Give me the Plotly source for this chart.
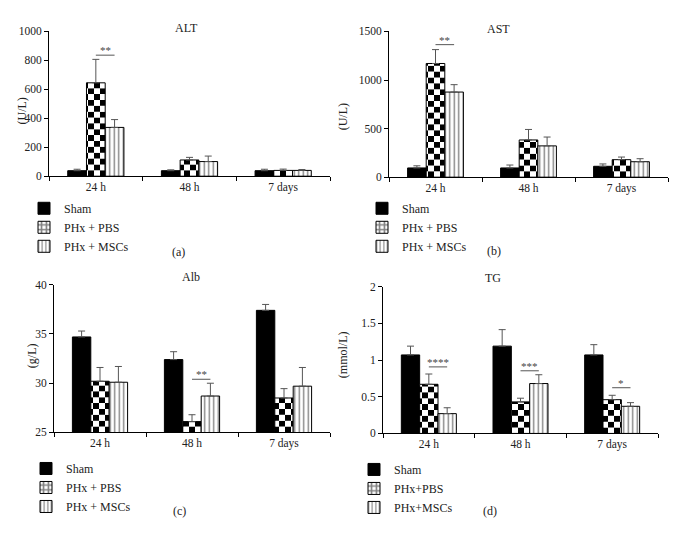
import math
import plotly.graph_objects as go

W, H = 673, 548
FONT = "Liberation Serif"
TXT = "#222222"
ERR = "#555555"

# ---------------- data ----------------
categories = ["24 h", "48 h", "7 days"]
group_names = ["Sham", "PHx + PBS", "PHx + MSCs"]
group_names_tg = ["Sham", "PHx+PBS", "PHx+MSCs"]

alt_sham = [38, 38, 38]
alt_sham_err = [10, 6, 10]
alt_pbs = [645, 112, 40]
alt_pbs_err = [162, 18, 9]
alt_msc = [337, 101, 40]
alt_msc_err = [54, 38, 6]

ast_sham = [95, 95, 112]
ast_sham_err = [22, 30, 24]
ast_pbs = [1170, 383, 180]
ast_pbs_err = [143, 108, 27]
ast_msc = [876, 322, 159]
ast_msc_err = [76, 91, 31]

alb_sham = [34.7, 32.4, 37.4]
alb_sham_err = [0.6, 0.8, 0.6]
alb_pbs = [30.2, 26.1, 28.5]
alb_pbs_err = [1.4, 0.7, 0.95]
alb_msc = [30.1, 28.7, 29.7]
alb_msc_err = [1.6, 1.3, 1.9]

tg_sham = [1.07, 1.19, 1.07]
tg_sham_err = [0.12, 0.225, 0.14]
tg_pbs = [0.67, 0.43, 0.46]
tg_pbs_err = [0.14, 0.05, 0.06]
tg_msc = [0.27, 0.68, 0.37]
tg_msc_err = [0.08, 0.12, 0.05]

alt_ticks = [0, 200, 400, 600, 800, 1000]
ast_ticks = [0, 500, 1000, 1500]
alb_ticks = [25, 30, 35, 40]
tg_ticks = [0, 0.5, 1, 1.5, 2]
tg_ticktext = ["0", "0.5", "1", "1.5", "2"]

# significance marks: (category, y value, label)
alt_sig = [("24 h", 836, "**")]
ast_sig = [("24 h", 1364, "**")]
alb_sig = [("48 h", 30.4, "**")]
tg_sig = [("24 h", 0.907, "****"), ("48 h", 0.854, "***"), ("7 days", 0.623, "*")]

# ---------------- layout geometry (pixels) ----------------
panels = [
    dict(title="ALT", ytitle="(U/L)", letter="(a)",
         sham=alt_sham, sham_err=alt_sham_err, pbs=alt_pbs, pbs_err=alt_pbs_err,
         msc=alt_msc, msc_err=alt_msc_err, names=group_names,
         yrange=[0, 1000], ticks=alt_ticks, ticktext=[str(t) for t in alt_ticks],
         sig=alt_sig,
         box=(49, 330, 26, 174), title_xy=(173, 13), ytitle_xy=(13, 92),
         letter_xy=(170, 251), legend_xy=(24, 192)),
    dict(title="AST", ytitle="(U/L)", letter="(b)",
         sham=ast_sham, sham_err=ast_sham_err, pbs=ast_pbs, pbs_err=ast_pbs_err,
         msc=ast_msc, msc_err=ast_msc_err, names=group_names,
         yrange=[0, 1500], ticks=ast_ticks, ticktext=[str(t) for t in ast_ticks],
         sig=ast_sig,
         box=(389, 668, 26, 175), title_xy=(512, 14), ytitle_xy=(343, 98),
         letter_xy=(503, 250), legend_xy=(362, 192)),
    dict(title="Alb", ytitle="(g/L)", letter="(c)",
         sham=alb_sham, sham_err=alb_sham_err, pbs=alb_pbs, pbs_err=alb_pbs_err,
         msc=alb_msc, msc_err=alb_msc_err, names=group_names,
         yrange=[25, 40], ticks=alb_ticks, ticktext=[str(t) for t in alb_ticks],
         sig=alb_sig,
         box=(54, 330, 285, 436), title_xy=(180, 277), ytitle_xy=(23, 357),
         letter_xy=(171, 526), legend_xy=(26, 458)),
    dict(title="TG", ytitle="(mmol/L)", letter="(d)",
         sham=tg_sham, sham_err=tg_sham_err, pbs=tg_pbs, pbs_err=tg_pbs_err,
         msc=tg_msc, msc_err=tg_msc_err, names=group_names_tg,
         yrange=[0, 2], ticks=tg_ticks, ticktext=tg_ticktext,
         sig=tg_sig,
         box=(383, 658, 287, 437), title_xy=(503, 278), ytitle_xy=(343, 357),
         letter_xy=(499, 526), legend_xy=(354, 459)),
]

BARGAP = 0.4
SLOT = (1 - BARGAP) / 3
CELL = 6  # checker square size in px
TICKSIZE = 11.5
LABELSIZE = 12

fig = go.Figure()
layout = dict(
    width=W, height=H, autosize=False,
    margin=dict(l=0, r=0, t=0, b=0),
    paper_bgcolor="white", plot_bgcolor="white",
    barmode="group", bargap=BARGAP, bargroupgap=0,
    font=dict(family=FONT, size=LABELSIZE, color=TXT),
    annotations=[], shapes=[],
)


def px2x(p):
    return p / W


def px2y(p):
    return 1 - p / H


def err_dict(arr):
    return dict(type="data", array=arr, arrayminus=[0] * len(arr), symmetric=False,
                color=ERR, thickness=1, width=3.5)


for i, p in enumerate(panels, start=1):
    xa = "x" if i == 1 else f"x{i}"
    ya = "y" if i == 1 else f"y{i}"
    lg = "legend" if i == 1 else f"legend{i}"
    x0, x1, yt, yb = p["box"]
    plot_px = yb - yt
    common = dict(x=categories, xaxis=xa, yaxis=ya, legend=lg)

    # Sham: solid black
    fig.add_trace(go.Bar(
        y=p["sham"], name=p["names"][0], offsetgroup="sham",
        marker=dict(color="black", line=dict(color="black", width=1)),
        error_y=err_dict(p["sham_err"]), hoverinfo="y", **common))

    # PHx + PBS: checkerboard built from stacked slices with alternating stripe phase
    y0 = p["yrange"][0]
    seg = (p["yrange"][1] - p["yrange"][0]) * CELL / plot_px
    nseg = math.ceil((max(p["pbs"]) - y0) / seg)
    for k in range(nseg):
        b = y0 + k * seg
        hs = [min(seg, v - b) if v > b else None for v in p["pbs"]]
        fg, bg = ("black", "white") if k % 2 == 0 else ("white", "black")
        fig.add_trace(go.Bar(
            y=hs, base=[b] * len(categories), offsetgroup="pbs", showlegend=False,
            hoverinfo="skip",
            marker=dict(color=bg, line=dict(width=0),
                        pattern=dict(shape="|", size=2 * CELL, solidity=0.5,
                                     fgcolor=fg, bgcolor=bg, fillmode="replace")),
            **common))
    fig.add_trace(go.Bar(
        y=p["pbs"], offsetgroup="pbs", showlegend=False, hoverinfo="y",
        marker=dict(color="rgba(0,0,0,0)", line=dict(color="black", width=1)),
        error_y=err_dict(p["pbs_err"]), **common))
    fig.add_trace(go.Bar(
        y=[None] * len(categories), name=p["names"][1], offsetgroup="pbs",
        marker=dict(color="white", line=dict(color="black", width=1),
                    pattern=dict(shape="+", size=6, solidity=0.55,
                                 fgcolor="black", bgcolor="white")),
        **common))

    # PHx + MSCs: vertical stripes
    fig.add_trace(go.Bar(
        y=p["msc"], name=p["names"][2], offsetgroup="msc", hoverinfo="y",
        marker=dict(color="white", line=dict(color="black", width=1),
                    pattern=dict(shape="|", size=4.5, solidity=0.3,
                                 fgcolor="black", bgcolor="white")),
        error_y=err_dict(p["msc_err"]), **common))

    axkey = "" if i == 1 else str(i)
    layout["xaxis" + axkey] = dict(
        domain=[px2x(x0), px2x(x1)], anchor=ya, type="category",
        range=[-0.5, len(categories) - 0.5],
        showline=True, linecolor="black", linewidth=1, mirror=False,
        ticks="outside", tickson="boundaries", ticklen=4, tickcolor="black",
        tickfont=dict(family=FONT, size=TICKSIZE, color=TXT),
        showgrid=False, zeroline=False, fixedrange=True)
    layout["yaxis" + axkey] = dict(
        domain=[px2y(yb), px2y(yt)], anchor=xa, range=p["yrange"],
        tickvals=p["ticks"], ticktext=p["ticktext"],
        showline=True, linecolor="black", linewidth=1,
        ticks="outside", ticklen=4, tickcolor="black",
        tickfont=dict(family=FONT, size=TICKSIZE, color=TXT),
        showgrid=False, zeroline=False, fixedrange=True)

    lx, ly = p["legend_xy"]
    layout[lg] = dict(
        x=px2x(lx), y=px2y(ly), xanchor="left", yanchor="top",
        bgcolor="rgba(0,0,0,0)", borderwidth=0, traceorder="normal",
        font=dict(family=FONT, size=LABELSIZE, color=TXT))

    tx, ty = p["title_xy"]
    layout["annotations"].append(dict(
        text=p["title"], x=px2x(tx), y=px2y(ty), xref="paper", yref="paper",
        showarrow=False, font=dict(family=FONT, size=LABELSIZE, color=TXT)))
    yx, yy = p["ytitle_xy"]
    layout["annotations"].append(dict(
        text=p["ytitle"], x=px2x(yx), y=px2y(yy), xref="paper", yref="paper",
        showarrow=False, textangle=-90, font=dict(family=FONT, size=LABELSIZE, color=TXT)))
    lx2, ly2 = p["letter_xy"]
    layout["annotations"].append(dict(
        text=p["letter"], x=px2x(lx2), y=px2y(ly2), xref="paper", yref="paper",
        showarrow=False, font=dict(family=FONT, size=LABELSIZE, color=TXT)))

    for cat, yv, lab in p["sig"]:
        idx = categories.index(cat)
        layout["shapes"].append(dict(
            type="line", xref=xa, yref=ya, x0=idx, x1=idx + SLOT, y0=yv, y1=yv,
            line=dict(color="#555555", width=1)))
        layout["annotations"].append(dict(
            text=lab, x=idx + SLOT / 2, y=yv, xref=xa, yref=ya, showarrow=False,
            yanchor="bottom", yshift=-3, font=dict(family=FONT, size=11, color="#444444")))

fig.update_layout(**layout)
fig.write_html("out.html", config={"displayModeBar": False},
               post_script="document.body.style.margin='0px';")
